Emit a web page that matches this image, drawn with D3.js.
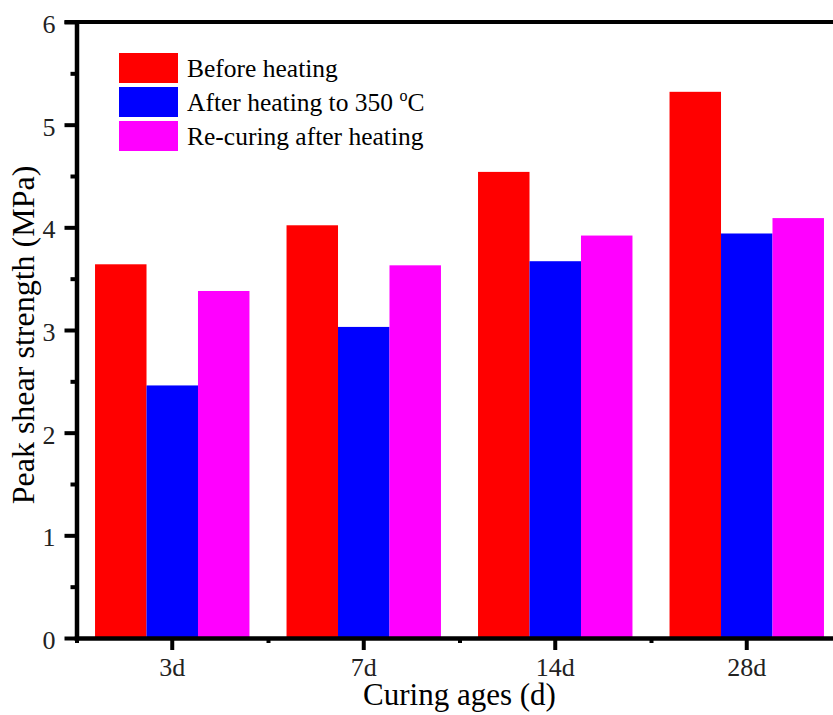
<!DOCTYPE html>
<html>
<head>
<meta charset="utf-8">
<script src="https://cdn.jsdelivr.net/npm/d3@7"></script>
<style>
  body { margin: 0; background: #fff; }
  svg { display: block; font-family: "Liberation Serif", "Times New Roman", serif; }
</style>
</head>
<body>
<svg id="chart" width="833" height="715"></svg>
<script>
const width = 833;
const height = 715;

// data
const ages = ["3d", "7d", "14d", "28d"];
const series = ["Before heating", "After heating to 350 ºC", "Re-curing after heating"];
const beforeHeating = [3.64, 4.02, 4.54, 5.32];
const afterHeating = [2.46, 3.03, 3.67, 3.94];
const reCuring = [3.38, 3.63, 3.92, 4.09];
const colors = ["#ff0000", "#0000ff", "#ff00ff"];
const yTicks = [0, 1, 2, 3, 4, 5, 6];
const yMinor = [0.5, 1.5, 2.5, 3.5, 4.5, 5.5];

const values = [beforeHeating, afterHeating, reCuring];

// plot runs past the right edge of the window
const margin = { left: 76.5, top: 22, bottom: 77, right: -9.5 };

const svg = d3.select("#chart");

const x0 = d3.scaleBand()
    .domain(ages)
    .range([margin.left, width - margin.right])
    .padding(0);

const x1 = d3.scaleBand()
    .domain(d3.range(series.length))
    .range([0, x0.bandwidth()])
    .paddingInner(0)
    .paddingOuter(0.36);

const y = d3.scaleLinear()
    .domain([0, 6])
    .range([height - margin.bottom, margin.top]);

// bars
const groups = svg.append("g")
    .selectAll("g")
    .data(ages)
    .join("g")
    .attr("transform", d => `translate(${x0(d)},0)`);

groups.selectAll("rect")
    .data((d, i) => values.map((v, s) => ({ s, v: v[i] })))
    .join("rect")
    .attr("x", d => x1(d.s))
    .attr("width", x1.bandwidth())
    .attr("y", d => y(d.v))
    .attr("height", d => y(0) - y(d.v))
    .attr("fill", d => colors[d.s]);

// frame on top
svg.append("line")
    .attr("x1", margin.left - 12).attr("x2", x0.range()[1])
    .attr("y1", y(6)).attr("y2", y(6))
    .attr("stroke", "#000").attr("stroke-width", 4);
svg.append("line")
    .attr("x1", x0.range()[1]).attr("x2", x0.range()[1])
    .attr("y1", y(6)).attr("y2", y(0))
    .attr("stroke", "#000").attr("stroke-width", 4);

// y axis
const yAxis = svg.append("g")
    .attr("transform", `translate(${margin.left},0)`)
    .call(d3.axisLeft(y).tickValues(yTicks).tickFormat(d3.format("d"))
        .tickSize(12).tickSizeOuter(0).tickPadding(9));
svg.append("g")
    .attr("transform", `translate(${margin.left},0)`)
    .call(d3.axisLeft(y).tickValues(yMinor).tickSize(6).tickFormat(""))
    .call(g => g.select(".domain").remove());

// x axis
const xb = d3.scaleLinear().domain([0, ages.length]).range(x0.range());
const xAxis = svg.append("g")
    .attr("transform", `translate(0,${y(0)})`)
    .call(d3.axisBottom(x0).tickSize(12).tickSizeOuter(0).tickPadding(8));
svg.append("g")
    .attr("transform", `translate(0,${y(0)})`)
    .call(d3.axisBottom(xb).tickValues(d3.range(ages.length + 1)).tickSize(5).tickFormat(""))
    .call(g => g.select(".domain").remove());

svg.selectAll(".tick line").attr("stroke", "#000").attr("stroke-width", 4);
svg.selectAll(".domain").attr("stroke", "#000").attr("stroke-width", 4.5).attr("stroke-linecap", "square");
svg.selectAll(".tick text").attr("fill", "#222").attr("font-size", 26)
    .attr("font-family", "Liberation Serif, serif");
yAxis.selectAll(".tick text").attr("dy", "0.4em");

// axis titles
svg.append("text")
    .attr("transform", `translate(34,335) rotate(-90)`)
    .attr("text-anchor", "middle")
    .attr("font-size", 32)
    .text("Peak shear strength (MPa)");

svg.append("text")
    .attr("x", (x0.range()[0] + x0.range()[1]) / 2)
    .attr("y", 705)
    .attr("text-anchor", "middle")
    .attr("font-size", 31)
    .text("Curing ages (d)");

// legend
const legend = svg.append("g").attr("transform", "translate(119,53)");
const item = legend.selectAll("g")
    .data(series)
    .join("g")
    .attr("transform", (d, i) => `translate(0,${i * 34})`);
item.append("rect")
    .attr("width", 59).attr("height", 30)
    .attr("fill", (d, i) => colors[i]);
item.append("text")
    .attr("x", 68).attr("y", 24)
    .attr("font-size", 25.5)
    .each(function (d) {
        const t = d3.select(this);
        if (d.includes("ºC")) {
            const parts = d.split("ºC");
            t.append("tspan").text(parts[0]);
            t.append("tspan").attr("font-size", 16).attr("dy", -10).text("o");
            t.append("tspan").attr("dy", 10).text("C");
        } else {
            t.text(d);
        }
    });
</script>
</body>
</html>
